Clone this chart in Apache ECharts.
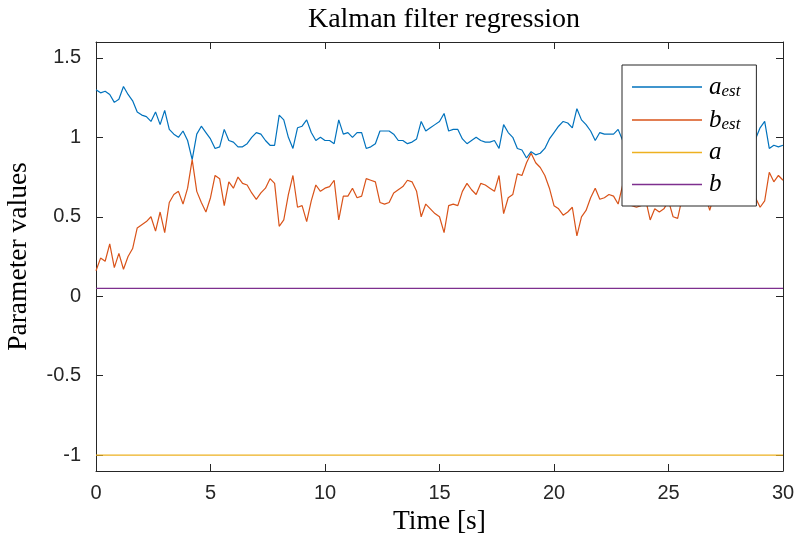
<!DOCTYPE html>
<html>
<head>
<meta charset="utf-8">
<script src="https://cdn.jsdelivr.net/npm/echarts@6/dist/echarts.min.js"></script>
<style>
  html, body { margin: 0; padding: 0; background: #fff; }
  #chart { width: 798px; height: 547px; }
</style>
</head>
<body>
<div id="chart"></div>
<script>
// Kalman filter estimates of a and b, sampled every 0.2 s from 0 to 30 s
const dt = 0.2;

const aEst = [
  1.30, 1.28, 1.29, 1.27, 1.22, 1.24, 1.32, 1.27, 1.23, 1.16,
  1.14, 1.13, 1.10, 1.16, 1.08, 1.17, 1.05, 1.02, 1.00, 1.04,
  0.98, 0.86, 1.02, 1.07, 1.03, 0.99, 0.93, 0.94, 1.05, 0.98,
  0.97, 0.94, 0.94, 0.96, 1.00, 1.03, 1.02, 0.98, 0.95, 0.95,
  1.14, 1.11, 1.00, 0.93, 1.06, 1.07, 1.11, 1.03, 0.98, 1.00,
  0.98, 0.98, 0.96, 1.11, 1.02, 1.03, 1.00, 1.03, 1.03, 0.93,
  0.94, 0.96, 1.04, 1.04, 1.04, 1.02, 0.98, 0.98, 0.96, 0.97,
  0.99, 1.10, 1.04, 1.06, 1.08, 1.10, 1.15, 1.04, 1.05, 1.05,
  0.99, 0.96, 0.98, 1.00, 0.98, 0.97, 0.97, 0.98, 0.93, 1.08,
  1.03, 1.00, 0.93, 0.92, 0.87, 0.91, 0.89, 0.90, 0.93, 0.99,
  1.03, 1.07, 1.10, 1.09, 1.06, 1.18, 1.11, 1.08, 1.04, 0.98,
  1.03, 1.02, 1.02, 1.02, 1.05, 0.98, 1.02, 1.05, 1.06, 1.04,
  1.01, 1.10, 1.03, 1.05, 1.03, 0.99, 1.08, 1.09, 0.99, 0.97,
  0.98, 0.96, 0.99, 0.98, 1.06, 0.98, 0.95, 0.97, 0.99, 0.97,
  0.94, 0.96, 0.98, 0.96, 0.99, 1.06, 1.10, 0.93, 0.95, 0.94,
  0.95
];

const bEst = [
  0.16, 0.24, 0.22, 0.33, 0.18, 0.27, 0.17, 0.25, 0.30, 0.43,
  0.45, 0.47, 0.50, 0.41, 0.53, 0.40, 0.59, 0.64, 0.66, 0.58,
  0.68, 0.86, 0.66, 0.59, 0.53, 0.62, 0.76, 0.74, 0.57, 0.72,
  0.68, 0.75, 0.71, 0.70, 0.65, 0.61, 0.65, 0.68, 0.74, 0.71,
  0.44, 0.48, 0.64, 0.76, 0.56, 0.57, 0.47, 0.60, 0.70, 0.66,
  0.68, 0.69, 0.73, 0.48, 0.63, 0.63, 0.68, 0.62, 0.63, 0.74,
  0.73, 0.72, 0.59, 0.58, 0.59, 0.65, 0.67, 0.69, 0.73, 0.72,
  0.66, 0.50, 0.58, 0.55, 0.52, 0.50, 0.40, 0.57, 0.58, 0.57,
  0.66, 0.71, 0.67, 0.64, 0.71, 0.70, 0.68, 0.66, 0.76, 0.52,
  0.62, 0.64, 0.77, 0.76, 0.84, 0.90, 0.84, 0.81, 0.76, 0.68,
  0.57, 0.55, 0.51, 0.53, 0.56, 0.38, 0.50, 0.54, 0.62, 0.68,
  0.61, 0.62, 0.64, 0.63, 0.58, 0.70, 0.62, 0.57, 0.56, 0.57,
  0.61, 0.48, 0.55, 0.53, 0.55, 0.60, 0.50, 0.49, 0.62, 0.65,
  0.63, 0.66, 0.62, 0.64, 0.54, 0.64, 0.67, 0.65, 0.62, 0.64,
  0.68, 0.66, 0.63, 0.65, 0.62, 0.56, 0.60, 0.78, 0.72, 0.76,
  0.73
];

// True parameter values
const aTrue = -1;
const bTrue = 0.05;

const xTicks = [0, 5, 10, 15, 20, 25, 30];
const yTicks = [-1, -0.5, 0, 0.5, 1, 1.5];

const time = aEst.map((_, i) => +(i * dt).toFixed(1));
const pairs = vals => vals.map((v, i) => [time[i], v]);

const axisColor = '#262626';
const serif = "'Liberation Serif', 'Times New Roman', serif";
const sans = "'Liberation Sans', Arial, sans-serif";

const chart = echarts.init(document.getElementById('chart'), null, { renderer: 'canvas' });

const legendLabels = {
  'a_est': '{m|a}{s|est}',
  'b_est': '{m|b}{s|est}',
  'a': '{m|a}',
  'b': '{m|b}'
};

const boxLine = {
  show: true,
  onZero: false,
  lineStyle: { color: axisColor, width: 1 }
};
const xTick = { show: true, inside: true, length: 7, customValues: xTicks, lineStyle: { color: axisColor } };
const yTick = { show: true, inside: true, length: 7, customValues: yTicks, lineStyle: { color: axisColor } };

chart.setOption({
  animation: false,
  backgroundColor: '#fff',
  title: {
    text: 'Kalman filter regression',
    left: 439,
    textAlign: 'center',
    top: 1,
    textStyle: { fontFamily: serif, fontWeight: 'normal', fontSize: 28, color: '#000' }
  },
  grid: { left: 96, right: 15, top: 42, bottom: 76, containLabel: false, outerBoundsMode: 'none' },
  legend: {
    orient: 'vertical',
    left: 622,
    top: 65,
    z: 20,
    padding: [9, 16, 9, 10],
    itemGap: 7,
    itemWidth: 70,
    itemHeight: 1.5,
    icon: 'rect',
    backgroundColor: '#fff',
    borderColor: axisColor,
    borderWidth: 1,
    borderRadius: 0,
    data: ['a_est', 'b_est', 'a', 'b'],
    formatter: name => legendLabels[name],
    textStyle: {
      padding: [0, 0, 0, 2],
      rich: {
        m: { fontFamily: serif, fontStyle: 'italic', fontSize: 25, color: '#000', lineHeight: 26 },
        s: { fontFamily: serif, fontStyle: 'italic', fontSize: 17, color: '#000', lineHeight: 26, padding: [9, 0, 0, 0] }
      }
    }
  },
  xAxis: [
    {
      type: 'value', min: 0, max: 30,
      name: 'Time [s]', nameLocation: 'middle', nameGap: 36,
      nameTextStyle: { fontFamily: serif, fontSize: 27.5, color: '#000' },
      axisLine: boxLine,
      axisTick: xTick,
      axisLabel: { fontFamily: sans, fontSize: 20, color: axisColor, margin: 12, customValues: xTicks },
      splitLine: { show: false }
    },
    {
      type: 'value', min: 0, max: 30, position: 'top',
      axisLine: boxLine,
      axisTick: xTick,
      axisLabel: { show: false },
      splitLine: { show: false }
    }
  ],
  yAxis: [
    {
      type: 'value', min: -1.1, max: 1.6,
      name: 'Parameter values', nameLocation: 'middle', nameGap: 63, nameRotate: 90,
      nameTextStyle: { fontFamily: serif, fontSize: 27.5, color: '#000' },
      axisLine: boxLine,
      axisTick: yTick,
      axisLabel: { fontFamily: sans, fontSize: 20, color: axisColor, margin: 15, customValues: yTicks },
      splitLine: { show: false }
    },
    {
      type: 'value', min: -1.1, max: 1.6, position: 'right',
      axisLine: boxLine,
      axisTick: yTick,
      axisLabel: { show: false },
      splitLine: { show: false }
    }
  ],
  series: [
    { name: 'a_est', type: 'line', data: pairs(aEst), showSymbol: false, lineStyle: { color: '#0072BD', width: 1.2 }, itemStyle: { color: '#0072BD' } },
    { name: 'b_est', type: 'line', data: pairs(bEst), showSymbol: false, lineStyle: { color: '#D95319', width: 1.2 }, itemStyle: { color: '#D95319' } },
    { name: 'a', type: 'line', data: time.map(t => [t, aTrue]), showSymbol: false, lineStyle: { color: '#EDB120', width: 1.2 }, itemStyle: { color: '#EDB120' } },
    { name: 'b', type: 'line', data: time.map(t => [t, bTrue]), showSymbol: false, lineStyle: { color: '#7E2F8E', width: 1.2 }, itemStyle: { color: '#7E2F8E' } }
  ]
});
</script>
</body>
</html>
